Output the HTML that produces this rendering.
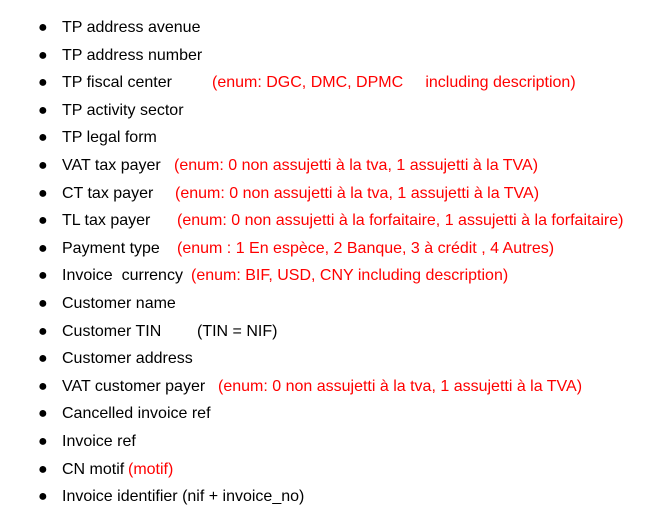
<!DOCTYPE html>
<html><head><meta charset="utf-8"><style>
body{margin:0;width:670px;height:513px;background:#fff;font-family:"Liberation Sans",sans-serif;font-size:16px;color:#000;position:relative;overflow:hidden}
.l{position:absolute;left:0;height:20px;line-height:20px;white-space:pre}
.b{position:absolute;left:38px;font-size:16px}
.t{position:absolute;left:62px}
.r{position:absolute;color:#ff0000}
.k{position:absolute}
</style></head><body>
<div class="l" style="top:18px"><span class="b">●</span><span class="t">TP address avenue</span></div>
<div class="l" style="top:46px"><span class="b">●</span><span class="t">TP address number</span></div>
<div class="l" style="top:73px"><span class="b">●</span><span class="t">TP fiscal center</span><span class="r" style="left:212px">(enum: DGC, DMC, DPMC     including description)</span></div>
<div class="l" style="top:101px"><span class="b">●</span><span class="t">TP activity sector</span></div>
<div class="l" style="top:128px"><span class="b">●</span><span class="t">TP legal form</span></div>
<div class="l" style="top:156px"><span class="b">●</span><span class="t">VAT tax payer</span><span class="r" style="left:174px">(enum: 0 non assujetti à la tva, 1 assujetti à la TVA)</span></div>
<div class="l" style="top:184px"><span class="b">●</span><span class="t">CT tax payer</span><span class="r" style="left:175px">(enum: 0 non assujetti à la tva, 1 assujetti à la TVA)</span></div>
<div class="l" style="top:211px"><span class="b">●</span><span class="t">TL tax payer</span><span class="r" style="left:177px">(enum: 0 non assujetti à la forfaitaire, 1 assujetti à la forfaitaire)</span></div>
<div class="l" style="top:239px"><span class="b">●</span><span class="t">Payment type</span><span class="r" style="left:177px">(enum : 1 En espèce, 2 Banque, 3 à crédit , 4 Autres)</span></div>
<div class="l" style="top:266px"><span class="b">●</span><span class="t">Invoice  currency</span><span class="r" style="left:191px">(enum: BIF, USD, CNY including description)</span></div>
<div class="l" style="top:294px"><span class="b">●</span><span class="t">Customer name</span></div>
<div class="l" style="top:322px"><span class="b">●</span><span class="t">Customer TIN</span><span class="k" style="left:197px">(TIN = NIF)</span></div>
<div class="l" style="top:349px"><span class="b">●</span><span class="t">Customer address</span></div>
<div class="l" style="top:377px"><span class="b">●</span><span class="t">VAT customer payer</span><span class="r" style="left:218px">(enum: 0 non assujetti à la tva, 1 assujetti à la TVA)</span></div>
<div class="l" style="top:404px"><span class="b">●</span><span class="t">Cancelled invoice ref</span></div>
<div class="l" style="top:432px"><span class="b">●</span><span class="t">Invoice ref</span></div>
<div class="l" style="top:460px"><span class="b">●</span><span class="t">CN motif</span><span class="r" style="left:128px">(motif)</span></div>
<div class="l" style="top:487px"><span class="b">●</span><span class="t">Invoice identifier (nif + invoice_no)</span></div>
</body></html>
